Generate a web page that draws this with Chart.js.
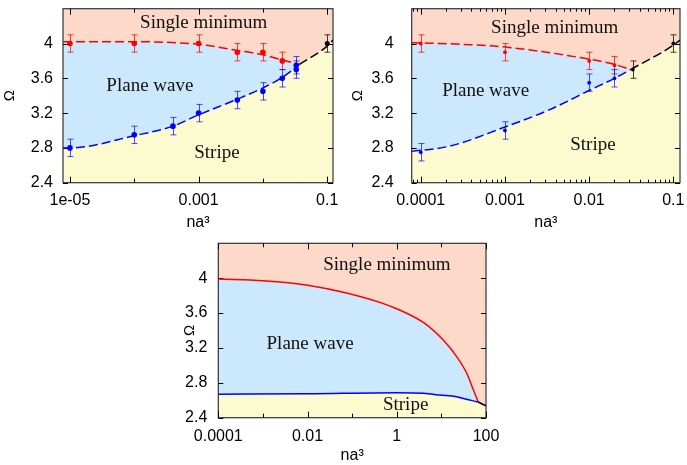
<!DOCTYPE html>
<html><head><meta charset="utf-8">
<script src="https://cdn.jsdelivr.net/npm/chart.js@4.4.0/dist/chart.umd.min.js"></script>
<style>
html,body{margin:0;padding:0;background:#fff;width:687px;height:465px;overflow:hidden}
.box{position:absolute}
</style></head><body>
<div class="box" style="left:0;top:0;width:345px;height:232px"><canvas id="c1"></canvas></div>
<div class="box" style="left:345px;top:0;width:342px;height:232px"><canvas id="c2"></canvas></div>
<div class="box" style="left:180px;top:236px;width:330px;height:229px"><canvas id="c3"></canvas></div>
<script>
// ---------------- data ----------------
const yTicks = [2.4, 2.8, 3.2, 3.6, 4];
const yTickLabels = ['2.4', '2.8', '3.2', '3.6', '4'];

// Panel 1 (top left)
const p1XTicks = [1e-5, 1e-3, 0.1];
const p1XTickLabels = ['1e-05', '0.001', '0.1'];
const p1RedX = [1e-5, 1e-4, 1e-3, 4e-3, 1e-2, 2e-2];
const p1RedY = [4.0, 4.0, 4.0, 3.9, 3.9, 3.8];
const p1RedErr = [0.1, 0.1, 0.1, 0.1, 0.1, 0.1];
const p1BlueX = [1e-5, 1e-4, 4e-4, 1e-3, 4e-3, 1e-2, 2e-2, 3.3e-2, 3.3e-2];
const p1BlueY = [2.8, 2.95, 3.05, 3.2, 3.35, 3.45, 3.6, 3.7, 3.75];
const p1BlueErr = [0.1, 0.1, 0.1, 0.1, 0.1, 0.1, 0.1, 0.1, 0.1];
const p1BlackX = [0.1];
const p1BlackY = [4.0];
const p1BlackErr = [0.1];
const p1RedCurveX = [7.8e-6, 1e-4, 1e-3, 4e-3, 1e-2, 2e-2, 0.037];
const p1RedCurveY = [4.02, 4.02, 3.99, 3.92, 3.87, 3.81, 3.76];
const p1BlueCurveX = [7.8e-6, 1e-5, 1e-4, 4e-4, 1e-3, 4e-3, 1e-2, 2e-2, 0.037];
const p1BlueCurveY = [2.8, 2.8, 2.94, 3.05, 3.18, 3.36, 3.49, 3.61, 3.76];
const p1BlackCurveX = [0.037, 0.1, 0.123];
const p1BlackCurveY = [3.76, 3.97, 4.04];

// Panel 2 (top right)
const p2XTicks = [1e-4, 1e-3, 1e-2, 0.1];
const p2XTickLabels = ['0.0001', '0.001', '0.01', '0.1'];
const p2RedX = [1e-4, 1e-3, 1e-2, 2e-2];
const p2RedY = [4.0, 3.9, 3.8, 3.75];
const p2RedErr = [0.1, 0.1, 0.1, 0.1];
const p2BlueX = [1e-4, 1e-3, 1e-2, 2e-2];
const p2BlueY = [2.75, 3.0, 3.55, 3.6];
const p2BlueErr = [0.1, 0.1, 0.1, 0.1];
const p2BlackX = [0.033, 0.1];
const p2BlackY = [3.7, 4.0];
const p2BlackErr = [0.1, 0.1];
const p2RedCurveX = [7.8e-5, 3.2e-4, 1e-3, 1e-2, 2e-2, 0.031];
const p2RedCurveY = [4.01, 3.99, 3.96, 3.82, 3.76, 3.70];
const p2BlueCurveX = [7.8e-5, 2.2e-4, 1e-3, 3.4e-3, 1e-2, 2e-2, 0.031];
const p2BlueCurveY = [2.76, 2.82, 3.04, 3.24, 3.46, 3.60, 3.70];
const p2BlackCurveX = [0.031, 0.1, 0.12];
const p2BlackCurveY = [3.70, 3.98, 4.04];

// Panel 3 (bottom)
const p3XTicks = [1e-4, 1e-2, 1, 100];
const p3XTickLabels = ['0.0001', '0.01', '1', '100'];
const p3RedCurveX = [1e-4, 1e-3, 1e-2, 0.075, 0.71, 4, 11, 22, 37, 52, 67];
const p3RedCurveY = [3.99, 3.97, 3.92, 3.83, 3.68, 3.49, 3.29, 3.10, 2.91, 2.72, 2.58];
const p3BlueCurveX = [1e-4, 1e-2, 1, 4, 9.3, 22, 31, 67];
const p3BlueCurveY = [2.67, 2.675, 2.687, 2.68, 2.66, 2.64, 2.62, 2.58];
const p3BlackCurveX = [67, 100];
const p3BlackCurveY = [2.58, 2.535];

// ---------------- styling ----------------
const SANS = '"Liberation Sans", Arial, Helvetica, sans-serif';
const SERIF = '"Liberation Serif", "Times New Roman", serif';
const SALMON = '#fcd9c8';
const LBLUE = '#cce8fc';
const YELLOW = '#fcfbd0';
const RED = '#ff0000';
const BLUE = '#0000ff';
const BLACK = '#000000';

function pts(xs, ys) { return xs.map((x, i) => ({ x: x, y: ys[i] })); }

function lineDS(label, xs, ys, color, dash) {
  return {
    label: label, data: pts(xs, ys), showLine: true, fill: false,
    borderColor: color, borderWidth: 1.5, borderDash: dash,
    pointRadius: 0, pointHoverRadius: 0,
    tension: 0.4, cubicInterpolationMode: 'monotone'
  };
}
function fillDS(label, xs, ys, fillColor) {
  return {
    label: label, data: pts(xs, ys), showLine: true, fill: 'start',
    borderWidth: 0, borderColor: 'rgba(0,0,0,0)', backgroundColor: fillColor,
    pointRadius: 0, pointHoverRadius: 0,
    tension: 0.4, cubicInterpolationMode: 'monotone'
  };
}
function pointDS(label, xs, ys, errs, color, errColor, r) {
  return {
    label: label, data: pts(xs, ys), errors: errs, errColor: errColor,
    showLine: false, fill: false,
    pointRadius: r, pointHoverRadius: r, pointBorderWidth: 0,
    backgroundColor: color, borderColor: color
  };
}

const decorPlugin = {
  id: 'decor',
  beforeDraw(chart) {
    const a = chart.chartArea, ctx = chart.ctx;
    ctx.save();
    ctx.fillStyle = SALMON;
    ctx.fillRect(a.left, a.top, a.right - a.left, a.bottom - a.top);
    ctx.restore();
  },
  beforeDatasetsDraw(chart, args, opts) {
    const a = chart.chartArea, ctx = chart.ctx;
    const xs = chart.scales.x, ys = chart.scales.y;
    ctx.save();
    // region labels
    ctx.fillStyle = '#111';
    ctx.font = '19px ' + SERIF;
    ctx.textAlign = 'center';
    ctx.textBaseline = 'middle';
    (opts.labels || []).forEach(l => {
      ctx.fillText(l.text, xs.getPixelForValue(l.x), ys.getPixelForValue(l.y));
    });
    // frame
    ctx.strokeStyle = '#333';
    ctx.lineWidth = 1.2;
    ctx.strokeRect(a.left, a.top, a.right - a.left, a.bottom - a.top);
    // tick marks (inward, all four sides)
    ctx.lineWidth = 1;
    ctx.strokeStyle = '#000';
    const seg = (x1, y1, x2, y2) => { ctx.beginPath(); ctx.moveTo(x1, y1); ctx.lineTo(x2, y2); ctx.stroke(); };
    yTicks.forEach(v => {
      const py = Math.round(ys.getPixelForValue(v)) + 0.5;
      seg(a.left, py, a.left + 5, py);
      seg(a.right, py, a.right - 5, py);
    });
    const lo = Math.floor(Math.log10(xs.min)), hi = Math.ceil(Math.log10(xs.max));
    const labelled = opts.labelled || [];
    for (let d = lo; d <= hi; d++) {
      for (let m = 1; m <= 9; m++) {
        if (m > 1 && !opts.minor) continue;
        const v = m * Math.pow(10, d);
        if (v < xs.min * 0.999 || v > xs.max * 1.001) continue;
        const isLab = labelled.some(t => Math.abs(Math.log10(t) - Math.log10(v)) < 1e-6);
        const len = m === 1 ? (isLab ? 6 : 4) : 3;
        const px = Math.round(xs.getPixelForValue(v)) + 0.5;
        seg(px, a.bottom, px, a.bottom - len);
        seg(px, a.top, px, a.top + len);
      }
    }
    // error bars
    chart.data.datasets.forEach(ds => {
      if (!ds.errors) return;
      ctx.strokeStyle = ds.errColor;
      ctx.lineWidth = 1;
      ds.data.forEach((p, j) => {
        const e = ds.errors[j];
        const px = Math.round(xs.getPixelForValue(p.x)) + 0.5;
        const y1 = ys.getPixelForValue(p.y - e), y2 = ys.getPixelForValue(p.y + e);
        seg(px, y1, px, y2);
        seg(px - 3, y1, px + 3, y1);
        seg(px - 3, y2, px + 3, y2);
      });
    });
    ctx.restore();
  }
};

function zeroPad(s) { s.paddingTop = 0; s.paddingBottom = 0; s.paddingLeft = 0; s.paddingRight = 0; }

function makeChart(id, cfg) {
  return new Chart(document.getElementById(id), {
    type: 'scatter',
    data: { datasets: cfg.datasets },
    options: {
      responsive: true, maintainAspectRatio: false, animation: false, devicePixelRatio: 1,
      events: [],
      layout: { padding: { left: 0, top: cfg.padTop, right: cfg.padRight, bottom: 0 } },
      plugins: {
        legend: { display: false }, tooltip: { enabled: false },
        filler: { drawTime: 'beforeDatasetsDraw', propagate: false },
        decor: { labels: cfg.labels, minor: cfg.minor, labelled: cfg.xTicks }
      },
      scales: {
        x: {
          type: 'logarithmic', min: cfg.xmin, max: cfg.xmax, bounds: 'data',
          afterBuildTicks: s => { s.ticks = cfg.xTicks.map(v => ({ value: v })); },
          afterFit: s => { s.height = cfg.xH; zeroPad(s); },
          grid: { display: false, drawTicks: false }, border: { display: false },
          ticks: { autoSkip: false, maxRotation: 0, minRotation: 0, padding: cfg.xPad, color: '#000',
                   font: { family: SANS, size: 16 }, callback: (v, i) => cfg.xTickLabels[i] },
          title: { display: true, text: 'na³', color: '#000', font: { family: SANS, size: 16 },
                   padding: { top: 0, bottom: 0 } }
        },
        y: {
          type: 'linear', min: 2.4, max: 4.4, bounds: 'data',
          afterBuildTicks: s => { s.ticks = yTicks.map(v => ({ value: v })); },
          afterFit: s => { s.width = cfg.yW; zeroPad(s); },
          grid: { display: false, drawTicks: false }, border: { display: false },
          ticks: { padding: cfg.yPad, color: '#000', font: { family: SANS, size: 16 },
                   callback: (v, i) => yTickLabels[i] },
          title: { display: true, text: 'Ω', color: '#000', font: { family: SANS, size: 15 },
                   padding: { top: cfg.yTitlePad, bottom: 0 } }
        }
      }
    },
    plugins: [decorPlugin]
  });
}

function panelDatasets(p) {
  const ds = [];
  (p.points || []).forEach(q => ds.push(q));
  ds.push(lineDS('Single minimum / stripe boundary', p.blackCX, p.blackCY, BLACK, p.dash));
  ds.push(lineDS('Plane wave / stripe boundary', p.blueCX, p.blueCY, BLUE, p.dash));
  ds.push(lineDS('Single minimum / plane wave boundary', p.redCX, p.redCY, RED, p.dash));
  ds.push(fillDS('Stripe region', p.blueCX.concat(p.blackCX.slice(1)), p.blueCY.concat(p.blackCY.slice(1)), YELLOW));
  ds.push(fillDS('Plane wave region', p.redCX, p.redCY, LBLUE));
  return ds;
}

// Panel 1
makeChart('c1', {
  xmin: 7.8e-6, xmax: 0.123, xTicks: p1XTicks, xTickLabels: p1XTickLabels,
  padTop: 8.7, padRight: 12, yW: 63, xH: 49.3, yPad: 10, xPad: 8, yTitlePad: 1, minor: false,
  labels: [
    { text: 'Single minimum', x: 1.2e-3, y: 4.236 },
    { text: 'Plane wave', x: 1.75e-4, y: 3.511 },
    { text: 'Stripe', x: 1.93e-3, y: 2.741 }
  ],
  datasets: panelDatasets({
    points: [
      pointDS('Single minimum / plane wave', p1RedX, p1RedY, p1RedErr, RED, 'rgba(255,0,0,0.75)', 2.8),
      pointDS('Plane wave / stripe', p1BlueX, p1BlueY, p1BlueErr, BLUE, 'rgba(0,0,255,0.7)', 2.8),
      pointDS('Single minimum / stripe', p1BlackX, p1BlackY, p1BlackErr, BLACK, 'rgba(0,0,0,0.75)', 2.5)
    ],
    redCX: p1RedCurveX, redCY: p1RedCurveY, blueCX: p1BlueCurveX, blueCY: p1BlueCurveY,
    blackCX: p1BlackCurveX, blackCY: p1BlackCurveY, dash: [9, 4]
  })
});

// Panel 2
makeChart('c2', {
  xmin: 7.8e-5, xmax: 0.12, xTicks: p2XTicks, xTickLabels: p2XTickLabels,
  padTop: 8.7, padRight: 7, yW: 66.7, xH: 49.3, yPad: 18, xPad: 8, yTitlePad: 4, minor: true,
  labels: [
    { text: 'Single minimum', x: 3.9e-3, y: 4.178 },
    { text: 'Plane wave', x: 5.9e-4, y: 3.454 },
    { text: 'Stripe', x: 1.11e-2, y: 2.833 }
  ],
  datasets: panelDatasets({
    points: [
      pointDS('Single minimum / plane wave', p2RedX, p2RedY, p2RedErr, RED, 'rgba(255,0,0,0.75)', 1.9),
      pointDS('Plane wave / stripe', p2BlueX, p2BlueY, p2BlueErr, BLUE, 'rgba(0,0,255,0.7)', 1.9),
      pointDS('Single minimum / stripe', p2BlackX, p2BlackY, p2BlackErr, BLACK, 'rgba(0,0,0,0.75)', 1.9)
    ],
    redCX: p2RedCurveX, redCY: p2RedCurveY, blueCX: p2BlueCurveX, blueCY: p2BlueCurveY,
    blackCX: p2BlackCurveX, blackCY: p2BlackCurveY, dash: [9, 4]
  })
});

// Panel 3
makeChart('c3', {
  xmin: 1e-4, xmax: 100, xTicks: p3XTicks, xTickLabels: p3XTickLabels,
  padTop: 7.3, padRight: 24, yW: 38.3, xH: 47.3, yPad: 11, xPad: 9, yTitlePad: 1, minor: false,
  labels: [
    { text: 'Single minimum', x: 0.6, y: 4.155 },
    { text: 'Plane wave', x: 1.14e-2, y: 3.244 },
    { text: 'Stripe', x: 1.58, y: 2.546 }
  ],
  datasets: panelDatasets({
    points: [],
    redCX: p3RedCurveX, redCY: p3RedCurveY, blueCX: p3BlueCurveX, blueCY: p3BlueCurveY,
    blackCX: p3BlackCurveX, blackCY: p3BlackCurveY, dash: []
  })
});
</script>
</body></html>
